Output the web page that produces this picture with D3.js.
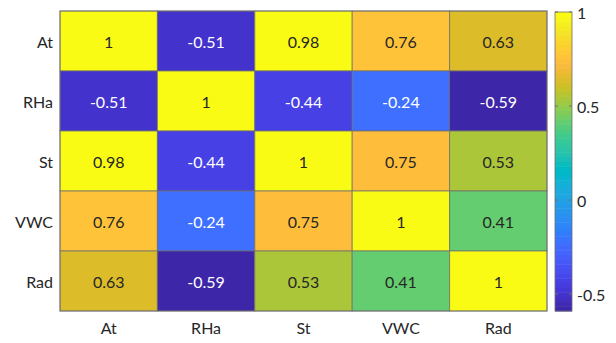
<!DOCTYPE html>
<html>
<head>
<meta charset="utf-8">
<script src="https://cdn.jsdelivr.net/npm/d3@7"></script>
<style>
  html, body { margin: 0; padding: 0; background: #fff; }
  svg { display: block; font-family: Lato, "Open Sans", sans-serif; }
</style>
</head>
<body>
<svg id="chart" width="616" height="343"></svg>
<script>
// Correlation matrix of the environmental variables
const variables = ["At", "RHa", "St", "VWC", "Rad"];
const rowAt  = [1, -0.51, 0.98, 0.76, 0.63];
const rowRHa = [-0.51, 1, -0.44, -0.24, -0.59];
const rowSt  = [0.98, -0.44, 1, 0.75, 0.53];
const rowVWC = [0.76, -0.24, 0.75, 1, 0.41];
const rowRad = [0.63, -0.59, 0.53, 0.41, 1];
const matrix = [rowAt, rowRHa, rowSt, rowVWC, rowRad];
const colorbarTicks = [-0.5, 0, 0.5, 1];

// 64-entry parula colormap
const parula = [
[0.2422,0.1504,0.6603],[0.2504,0.1650,0.7076],[0.2578,0.1818,0.7511],[0.2647,0.1978,0.7952],
[0.2706,0.2147,0.8364],[0.2751,0.2342,0.8710],[0.2783,0.2559,0.8991],[0.2803,0.2782,0.9221],
[0.2813,0.3006,0.9414],[0.2810,0.3228,0.9579],[0.2795,0.3447,0.9717],[0.2760,0.3667,0.9829],
[0.2699,0.3892,0.9906],[0.2602,0.4123,0.9952],[0.2440,0.4358,0.9988],[0.2206,0.4603,0.9973],
[0.1963,0.4847,0.9892],[0.1834,0.5074,0.9798],[0.1786,0.5289,0.9682],[0.1764,0.5499,0.9520],
[0.1687,0.5703,0.9359],[0.1540,0.5902,0.9218],[0.1460,0.6091,0.9079],[0.1380,0.6276,0.8973],
[0.1248,0.6459,0.8883],[0.1113,0.6635,0.8763],[0.0952,0.6798,0.8598],[0.0689,0.6948,0.8394],
[0.0297,0.7082,0.8163],[0.0036,0.7203,0.7917],[0.0067,0.7312,0.7660],[0.0433,0.7411,0.7394],
[0.0964,0.7500,0.7120],[0.1408,0.7584,0.6842],[0.1717,0.7670,0.6554],[0.1938,0.7758,0.6251],
[0.2161,0.7843,0.5923],[0.2470,0.7918,0.5567],[0.2906,0.7973,0.5188],[0.3406,0.8008,0.4789],
[0.3909,0.8029,0.4354],[0.4456,0.8024,0.3909],[0.5044,0.7993,0.3480],[0.5616,0.7942,0.3045],
[0.6174,0.7876,0.2612],[0.6720,0.7793,0.2227],[0.7242,0.7698,0.1910],[0.7738,0.7598,0.1646],
[0.8203,0.7498,0.1535],[0.8634,0.7406,0.1596],[0.9035,0.7330,0.1774],[0.9393,0.7288,0.2100],
[0.9728,0.7298,0.2394],[0.9956,0.7434,0.2371],[0.9970,0.7659,0.2199],[0.9952,0.7893,0.2028],
[0.9892,0.8136,0.1885],[0.9786,0.8386,0.1766],[0.9676,0.8639,0.1643],[0.9610,0.8890,0.1537],
[0.9597,0.9135,0.1423],[0.9628,0.9373,0.1265],[0.9691,0.9606,0.1064],[0.9769,0.9839,0.0805]
].map(c => d3.rgb(c[0]*255, c[1]*255, c[2]*255));

const flat = matrix.flat();
const vmin = d3.min(flat), vmax = d3.max(flat);
const m = parula.length;
const colorIndex = d3.scaleQuantize().domain([vmin, vmax]).range(d3.range(m));
const colorOf = v => parula[colorIndex(v)];
const label = v => String(v); // plain hyphen-minus, e.g. "-0.51"

const svg = d3.select("#chart");
const plot = { left: 60, top: 11, right: 547, bottom: 311 };

const x = d3.scaleBand().domain(variables).range([plot.left, plot.right]);
const y = d3.scaleBand().domain(variables).range([plot.top, plot.bottom]);

const cells = [];
matrix.forEach((row, i) => row.forEach((v, j) => cells.push({ r: variables[i], c: variables[j], v })));

svg.append("g").selectAll("rect").data(cells).join("rect")
  .attr("x", d => x(d.c)).attr("y", d => y(d.r))
  .attr("width", x.bandwidth()).attr("height", y.bandwidth())
  .attr("fill", d => colorOf(d.v))
  .attr("stroke", "rgba(110,110,110,0.75)").attr("stroke-width", 1);

// cell value labels: white text on dark cells
const lum = c => 0.299 * c.r + 0.587 * c.g + 0.114 * c.b;
svg.append("g").selectAll("text").data(cells).join("text")
  .attr("x", d => x(d.c) + x.bandwidth() / 2)
  .attr("y", d => y(d.r) + y.bandwidth() / 2)
  .attr("text-anchor", "middle").attr("dominant-baseline", "central")
  .attr("font-size", 16)
  .attr("fill", d => lum(colorOf(d.v)) < 128 ? "#ffffff" : "#262626")
  .text(d => label(d.v));

// outer frame
svg.append("rect")
  .attr("x", plot.left).attr("y", plot.top)
  .attr("width", plot.right - plot.left).attr("height", plot.bottom - plot.top)
  .attr("fill", "none").attr("stroke", "rgba(110,110,110,0.8)");

// axis labels
svg.append("g").selectAll("text").data(variables).join("text")
  .attr("x", plot.left - 7).attr("y", d => y(d) + y.bandwidth() / 2)
  .attr("text-anchor", "end").attr("dominant-baseline", "central")
  .attr("font-size", 16).attr("fill", "#262626").text(d => d);

svg.append("g").selectAll("text").data(variables).join("text")
  .attr("x", d => x(d) + x.bandwidth() / 2).attr("y", plot.bottom + 16)
  .attr("text-anchor", "middle").attr("dominant-baseline", "central")
  .attr("font-size", 16).attr("fill", "#262626").text(d => d);

// colorbar
const cb = { left: 555, right: 572 };
const cy = d3.scaleLinear().domain([vmin, vmax]).range([plot.bottom, plot.top + 1]);
const step = (vmax - vmin) / m;
svg.append("g").selectAll("rect").data(d3.range(m)).join("rect")
  .attr("x", cb.left).attr("width", cb.right - cb.left)
  .attr("y", i => cy(vmin + (i + 1) * step))
  .attr("height", i => cy(vmin + i * step) - cy(vmin + (i + 1) * step) + 0.5)
  .attr("fill", i => parula[i]);

svg.append("rect")
  .attr("x", cb.left).attr("y", cy(vmax))
  .attr("width", cb.right - cb.left).attr("height", cy(vmin) - cy(vmax))
  .attr("fill", "none").attr("stroke", "#6e6e6e").attr("stroke-width", 0.8);

const tk = svg.append("g").selectAll("g").data(colorbarTicks).join("g");
tk.append("line").attr("x1", cb.left).attr("x2", cb.left + 3)
  .attr("y1", d => cy(d)).attr("y2", d => cy(d)).attr("stroke", "#6e6e6e");
tk.append("line").attr("x1", cb.right - 3).attr("x2", cb.right)
  .attr("y1", d => cy(d)).attr("y2", d => cy(d)).attr("stroke", "#6e6e6e");
tk.append("text")
  .attr("x", cb.right + 5).attr("y", d => cy(d))
  .attr("dominant-baseline", "central").attr("font-size", 16).attr("fill", "#262626")
  .text(d => label(d));
</script>
</body>
</html>
